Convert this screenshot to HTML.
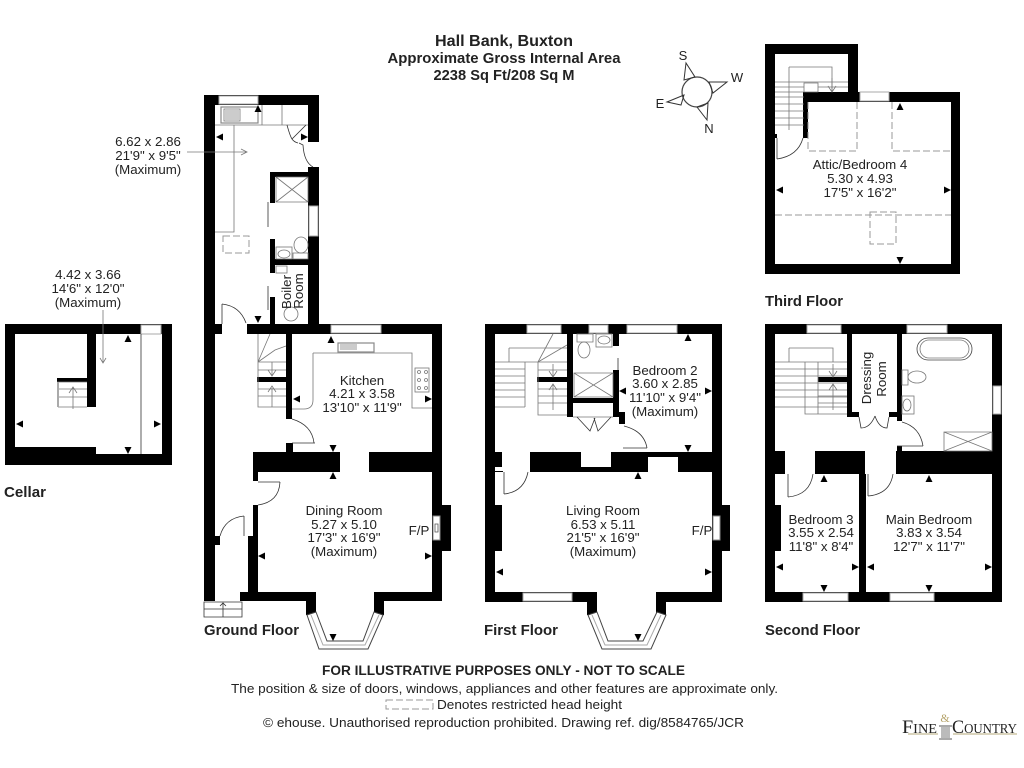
<!DOCTYPE html>
<html><head><meta charset="utf-8"><title>Hall Bank, Buxton</title>
<style>html,body{margin:0;padding:0;background:#fff}svg{display:block}
text{font-family:"Liberation Sans",Arial,sans-serif;font-size:13.3px;fill:#222;text-anchor:middle}
.b{font-weight:bold;font-size:15px;fill:#222}.l{text-anchor:start}
.t{fill:none;stroke:#777;stroke-width:.8}.k{fill:none;stroke:#333;stroke-width:.8}
.d{fill:none;stroke:#999;stroke-width:1;stroke-dasharray:7 3}.w{fill:#fff;stroke:#aaa;stroke-width:1}
.s{font-family:"Liberation Serif",serif;fill:#222;text-anchor:start}</style></head><body>
<svg width="1024" height="768" viewBox="0 0 1024 768" xmlns="http://www.w3.org/2000/svg">
<rect width="1024" height="768" fill="#fff"/>
<!-- WALLS -->
<path fill="#000" d="
M204 95H319V105H204Z M204 95H215V601H204Z M308 95H319V142H308Z M308 167H319V334H308Z
M247 324H442V334H247Z M432 324H442V601H432Z
M270 172H309V177H270Z M270 172H275V203H270Z M270 239H275V273H270Z M270 259H309V265H270Z M270 297H275V324H270Z
M286 334H292V419H286Z M257 377H286V382H257Z
M253 452H340V472H253Z M253 472H258V481H253Z M286 443H293V452H286Z M369 452H432V472H369Z
M253 505H258V592H253Z M248 536H258V601H248Z M240 592H316V601H240Z M306 601H316V615H306Z M374 592H442V601H374Z M374 601H384V615H374Z
M441 505H451V551H441Z M215 324H222V334H215Z M215 536H220V545H215Z
M485 324H722V334H485Z M485 324H495V602H485Z M712 324H722V602H712Z M485 592H597V602H485Z M656 592H722V602H656Z M587 602H597V615H587Z M656 602H666V615H656Z
M495 505H502V551H495Z M495 452H502V467H495Z M495 471H503V472H495Z M530 452H581V472H530Z M611 452H648V472H611Z M648 452H678V457H648Z M678 452H712V472H678Z M581 467H611V472H581Z
M722 505H730V551H722Z
M567 334H573V417H567Z M537 377H567V382H537Z M573 398H613V403H573Z M613 370H619V417H613Z M619 412H625V424H619Z M613 334H619V346H613Z
M765 324H1002V334H765Z M765 592H1002V602H765Z M765 324H775V602H765Z M992 324H1002V602H992Z
M847 334H852V417H847Z M847 412H859V417H847Z M889 412H902V417H889Z M897 334H902V421H897Z M818 377H847V382H818Z
M775 451H785V474H775Z M815 451H865V474H815Z M896 451H992V474H896Z M897 446H902V451H897Z M859 474H866V592H859Z M775 505H781V551H775Z
M765 44H858V54H765Z M765 44H775V274H765Z M848 44H858V102H848Z M804 92H960V102H804Z M951 92H960V274H951Z M765 264H960V274H765Z M803 92H808V138H803Z M775 134H777V138H775Z
M5 324H172V334H5Z M5 324H15V465H5Z M5 454H172V465H5Z M162 324H172V465H162Z M15 447H96V454H15Z M87 334H96V407H87Z M57 378H87V382H57Z"/>
<!-- windows -->
<g class="w">
<rect x="219" y="96" width="39" height="8"/><rect x="331" y="325" width="50" height="8"/><rect x="309" y="206" width="9" height="30"/>
<rect x="527" y="325" width="34" height="8"/><rect x="589" y="325" width="19" height="8"/><rect x="627" y="325" width="50" height="8"/><rect x="523" y="593" width="49" height="8"/>
<rect x="807" y="325" width="34" height="8"/><rect x="907" y="325" width="40" height="8"/><rect x="993" y="386" width="8" height="28"/><rect x="803" y="593" width="45" height="8"/><rect x="890" y="593" width="44" height="8"/>
<rect x="860" y="92" width="29" height="9"/><rect x="141" y="325" width="20" height="9"/>
</g>
<path fill="#fff" d="M433 516h7v24h-7zM713 516h7v24h-7z"/>
<path fill="none" stroke="#888" d="M433 516h7v24h-7zM713 516h7v24h-7z"/>
<path fill="none" stroke="#555" stroke-width=".8" d="M435 524h3v8h-3z"/>
<!-- bays -->
<g fill="#fff" stroke="#444" stroke-width="1">
<path d="M307 615L319 649H368L383 615L374 612L363 641H327L316 612Z"/>
<path d="M588 615L602 649H651L666 615L657 612L643 641H608L597 612Z"/>
</g>
<path fill="none" stroke="#aaa" stroke-width="1" d="M311 615L323 645H365L379 615M592 615L605 645H647L661 615"/>
<!-- ground floor detail -->
<g class="t">
<path d="M215 125H308M234 125V232H215M262 105V125M282 105V125"/>
<path d="M276 177H308V202H276ZM276 177L308 202M308 177L276 202"/>
<rect x="221" y="107" width="37" height="16" stroke="#888" stroke-width="1.2"/><rect x="224" y="109" width="16" height="12"/><path d="M225 111h14M225 113h14M225 115h14M225 117h14M225 119h14"/>
<ellipse cx="301" cy="245" rx="7" ry="8"/><path d="M293 253H308V259H293Z"/><rect x="276" y="247" width="16" height="12"/><ellipse cx="284" cy="254" rx="6" ry="4"/>
<rect x="276" y="266" width="11" height="7"/><circle cx="291" cy="314" r="7"/>
<path d="M313 353V400Q313 409 304 409H292M313 353H412V408H432"/>
<rect x="338" y="343" width="36" height="9" stroke="#888" stroke-width="1.2"/><path d="M340 345h17M340 347h17M340 349h17"/>
<rect x="415" y="368" width="14" height="24"/>
<circle cx="419" cy="372" r="1.5"/><circle cx="426" cy="372" r="1.5"/><circle cx="419" cy="380" r="1.5"/><circle cx="426" cy="380" r="1.5"/><circle cx="419" cy="388" r="1.5"/><circle cx="426" cy="388" r="1.5"/>
<path d="M258 334V407H286M258 362H286M258 370H286M258 389H286M258 396H286M258 362L270 334M258 362L275 350L286 346"/>
<path d="M272 407V388M268 392L272 386L276 392M272 362V375M268 370L272 376L276 370"/>
</g>
<path class="d" stroke-dasharray="9 2 2 2" d="M223 236H249V253H223Z"/>
<path class="k" d="M299 143L303 145Q304 162 313 167M287 125Q290 136 292 139L306 125M292 139Q294 142 298 143"/>
<path class="k" d="M268 202V227M268 286V310M222 304V324M222 304Q240 306 246 323M292 443H315M292 419Q312 425 314 443M258 482H280M280 482Q279 502 258 505M244 516V536M244 516Q225 518 220 536"/>
<path class="k" d="M204 602H242V617H204ZM204 609H242M223 603V617M220 606L223 603L226 606"/>
<!-- first floor detail -->
<g class="t">
<path d="M495 362H525M495 369H525M495 376H525M495 383H525M495 390H525M495 397H525M495 407H525M509 348H567M509 348V362M525 362V407M525 362H538M538 362V415H567M538 362H567M538 389H567M538 396H567M538 403H567M538 370H567"/>
<path d="M538 362L553 334M538 362L567 345"/>
<path d="M553 364V377M549 371L553 377L557 371M553 384V410M549 390L553 384L557 390"/>
<path d="M574 373H613V397H574ZM574 373L613 397M613 373L574 397"/>
<ellipse cx="584" cy="350" rx="6" ry="8"/><path d="M577 334H593V342H577Z"/><rect x="596" y="334" width="16" height="13"/><ellipse cx="604" cy="340" rx="6" ry="4"/>
<path d="M573 417H613"/>
</g>
<path class="k" d="M618 358V370M623 448H647M624 426Q644 431 647 448M504 472V494M504 494Q524 492 528 472M577 417L590 431L595 418M611 417L598 431L594 418"/>
<!-- second floor detail -->
<g class="t">
<path d="M775 362H847M775 369H847M775 376H847M775 383H847M775 390H847M775 397H847M775 407H847M789 348H833V362M789 348V362M805 362H818V414H805ZM818 414H847M818 403H847M818 396H847"/>
<path d="M833 364V377M829 371L833 377L837 371M833 384V410M829 390L833 384L837 390"/>
<rect x="917" y="338" width="55" height="22" rx="11" stroke="#444"/><rect x="920" y="340" width="49" height="18" rx="9"/>
<path d="M902 370h6v15h-6z"/><ellipse cx="917" cy="377" rx="9" ry="6"/><rect x="902" y="396" width="12" height="18"/><ellipse cx="907" cy="405" rx="4" ry="6"/>
<path d="M944 432H992V451H944ZM944 432L992 451M992 432L944 451"/>
</g>
<path class="k" d="M788 474V497M788 497Q810 495 813 474M868 474V496M868 496Q890 494 893 474M897 446H923M902 422Q920 427 923 446M859 417L861 428Q870 428 875 416M889 417L887 428Q879 428 875 416"/>
<!-- third floor detail -->
<g class="t">
<path d="M775 82H848M775 87H804M775 92H804M775 97H804M775 104H804M775 111H804M775 118H804M775 125H804M789 67V130M789 67H832V92M804 83H818V92H804ZM818 87H848"/>
<path d="M832 78V92M828 86L832 92L836 86"/>
</g>
<path class="d" d="M808 102V151H857V102M892 102V151H951M775 215H951"/>
<path class="d" stroke-dasharray="9 2 2 2" d="M870 212H896V244H870Z"/>
<path class="k" d="M777 138V159M777 159Q798 156 803 138"/>
<!-- cellar detail -->
<path class="k" d="M141 334V454"/>
<g class="t"><path d="M57 382H87M58 389H87M58 397H87M58 407H87M73 388V409M69 393L73 387L77 393"/></g>
<path fill="none" stroke="#aaa" stroke-width="2" d="M58 382V407"/>
<path class="t" d="M103 310V363M100 358L103 363L106 358M187 152H247M241 149L247 152L241 155"/>
<!-- ARROWS -->
<path fill="#000" d="
M258 105l3.5 7h-7zM216 137l7 -3.5v7zM308 137l-7 -3.5v7zM258 323l3.5 -7h-7z
M331 336l3.5 7h-7zM293 399l7 -3.5v7zM432 399l-7 -3.5v7zM333 452l3.5 -7h-7zM333 472l3.5 7h-7zM258 556l7 -3.5v7zM432 556l-7 -3.5v7zM333 641l3.5 -7h-7z
M688 334l3.5 7h-7zM619 391l7 -3.5v7zM712 391l-7 -3.5v7zM688 452l3.5 -7h-7zM638 472l3.5 7h-7zM496 572l7 -3.5v7zM712 572l-7 -3.5v7zM638 641l3.5 -7h-7z
M824 475l3.5 7h-7zM776 567l7 -3.5v7zM859 567l-7 -3.5v7zM824 592l3.5 -7h-7zM929 475l3.5 7h-7zM867 567l7 -3.5v7zM992 567l-7 -3.5v7zM929 592l3.5 -7h-7z
M900 103l3.5 7h-7zM776 190l7 -3.5v7zM951 190l-7 -3.5v7zM900 264l3.5 -7h-7z
M128 335l3.5 7h-7zM16 424l7 -3.5v7zM161 424l-7 -3.5v7zM128 454l3.5 -7h-7z"/>
<!-- compass -->
<circle cx="697" cy="92" r="15" fill="#fff" stroke="#444" stroke-width="1.2"/>
<path fill="none" stroke="#333" stroke-width="1" d="M686 63L684 80L695 77ZM727 82L709 82L713 93ZM667 102L684 95L681 105ZM707 120L697 107L708 103Z"/>
<text x="683" y="60" style="font-size:13px">S</text><text x="737" y="82" style="font-size:13px">W</text><text x="660" y="108" style="font-size:13px">E</text><text x="709" y="133" style="font-size:13px">N</text>
<!-- headings -->
<text class="b" x="504" y="46" textLength="138" lengthAdjust="spacingAndGlyphs" style="font-size:15.5px">Hall Bank, Buxton</text>
<text class="b" x="504" y="63" textLength="233" lengthAdjust="spacingAndGlyphs" style="font-size:14.5px">Approximate Gross Internal Area</text>
<text class="b" x="504" y="80" textLength="141" lengthAdjust="spacingAndGlyphs" style="font-size:14.5px">2238 Sq Ft/208 Sq M</text>
<text class="b l" x="204" y="635" textLength="95" lengthAdjust="spacingAndGlyphs">Ground Floor</text><text class="b l" x="484" y="635" textLength="74" lengthAdjust="spacingAndGlyphs">First Floor</text><text class="b l" x="765" y="635" textLength="95" lengthAdjust="spacingAndGlyphs">Second Floor</text><text class="b l" x="765" y="306" textLength="78" lengthAdjust="spacingAndGlyphs">Third Floor</text><text class="b l" x="4" y="497" textLength="42" lengthAdjust="spacingAndGlyphs">Cellar</text>
<!-- labels -->
<text x="148" y="146">6.62 x 2.86</text><text x="148" y="160">21'9" x 9'5"</text><text x="148" y="174">(Maximum)</text>
<text x="88" y="279">4.42 x 3.66</text><text x="88" y="293">14'6" x 12'0"</text><text x="88" y="307">(Maximum)</text>
<text x="362" y="385">Kitchen</text><text x="362" y="398">4.21 x 3.58</text><text x="362" y="412">13'10" x 11'9"</text>
<text x="344" y="515">Dining Room</text><text x="344" y="529">5.27 x 5.10</text><text x="344" y="542">17'3" x 16'9"</text><text x="344" y="556">(Maximum)</text>
<text x="419" y="535">F/P</text><text x="702" y="535">F/P</text>
<text transform="translate(291 292) rotate(-90)">Boiler</text><text transform="translate(303 291) rotate(-90)">Room</text>
<text x="665" y="375">Bedroom 2</text><text x="665" y="388">3.60 x 2.85</text><text x="665" y="402">11'10" x 9'4"</text><text x="665" y="416">(Maximum)</text>
<text x="603" y="515">Living Room</text><text x="603" y="529">6.53 x 5.11</text><text x="603" y="542">21'5" x 16'9"</text><text x="603" y="556">(Maximum)</text>
<text transform="translate(871 378) rotate(-90)">Dressing</text><text transform="translate(886 379) rotate(-90)">Room</text>
<text x="821" y="524">Bedroom 3</text><text x="821" y="537">3.55 x 2.54</text><text x="821" y="551">11'8" x 8'4"</text>
<text x="929" y="524">Main Bedroom</text><text x="929" y="537">3.83 x 3.54</text><text x="929" y="551">12'7" x 11'7"</text>
<text x="860" y="169">Attic/Bedroom 4</text><text x="860" y="183">5.30 x 4.93</text><text x="860" y="197">17'5" x 16'2"</text>
<!-- footer -->
<text class="b l" x="322" y="675" textLength="363" lengthAdjust="spacingAndGlyphs" style="font-size:13.5px">FOR ILLUSTRATIVE PURPOSES ONLY - NOT TO SCALE</text>
<text class="l" x="231" y="693" textLength="547" lengthAdjust="spacingAndGlyphs">The position &amp; size of doors, windows, appliances and other features are approximate only.</text>
<path class="d" stroke-dasharray="7 3" d="M386 700H433V709H386Z"/>
<text class="l" x="437" y="709" textLength="185" lengthAdjust="spacingAndGlyphs">Denotes restricted head height</text>
<text class="l" x="263" y="727" textLength="481" lengthAdjust="spacingAndGlyphs">© ehouse. Unauthorised reproduction prohibited. Drawing ref. dig/8584765/JCR</text>
<!-- logo -->
<path stroke="#c4bb95" stroke-width="1.2" d="M908 734H938M953 734H1017"/>
<rect x="939" y="725" width="13" height="2" fill="#aaa"/><rect x="941" y="727" width="9" height="11" fill="#bbb"/><rect x="939" y="738" width="13" height="2" fill="#aaa"/>
<text class="s" x="902" y="733" style="font-size:19px" textLength="35" lengthAdjust="spacingAndGlyphs">F<tspan style="font-size:13.5px">INE</tspan></text>
<text x="945" y="722" style="font-family:'Liberation Serif',serif;font-size:12px;fill:#b5a36a">&amp;</text>
<text class="s" x="952" y="733" style="font-size:19px" textLength="65" lengthAdjust="spacingAndGlyphs">C<tspan style="font-size:13.5px">OUNTRY</tspan></text>
</svg>
</body></html>
